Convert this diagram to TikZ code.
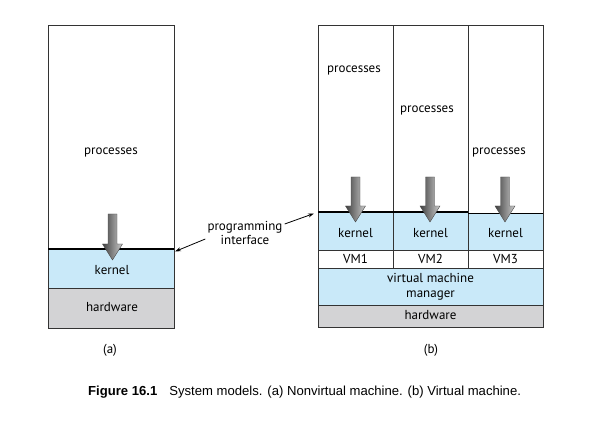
\documentclass[tikz,border=0pt]{standalone}
\usepackage{fontspec}
\setmainfont{PT Sans}
\newfontfamily\capfont{Liberation Sans}
\usetikzlibrary{arrows.meta}
\definecolor{kernelblue}{RGB}{201,233,249}
\definecolor{hwgray}{RGB}{211,211,213}
\tikzset{
  layer/.style={draw=black!80, line width=0.6pt},
  boundary/.style={line width=1.7pt},
  callarrow/.style={left color=black!75, right color=black!20, draw=black!70, line width=0.4pt},
  pointer/.style={-{Stealth[length=6pt,width=4pt]}, line width=0.8pt},
  lbl/.style={inner sep=1pt, font=\fontsize{13}{14.5}\selectfont},
}
% fat shaded arrow: x, top of shaft, tip
\newcommand{\callarrow}[3]{%
  \draw[callarrow] (#1-4.5,#2) -- (#1+4.5,#2) -- (#1+4.5,#3-16) -- (#1+10,#3-16)
    -- (#1,#3) -- (#1-10,#3-16) -- (#1-4.5,#3-16) -- cycle;}

\begin{document}
\begin{tikzpicture}[x=1pt,y=-1pt]
    \useasboundingbox (0,0) rectangle (589,446);
    % (a) nonvirtual machine
    \draw[layer] (48,25) rectangle (174,249);
    \draw[layer,fill=kernelblue] (48,249) rectangle (174,288);
    \draw[layer,fill=hwgray] (48,288) rectangle (174,328);
    \draw[boundary] (48,249) -- (174,249);
    \callarrow{112.5}{214}{260}
    \node[lbl] (procA) at (111,152) {processes};
    \node[lbl] (kernA) at (112,270) {kernel};
    \node[lbl] (hwA) at (112,307) {hardware};
    \node[lbl] (capA) at (110,350) {(a)};

    % (b) virtual machines
    \draw[layer] (318,25) rectangle (393,212);
    \draw[layer] (393,25) rectangle (468,212);
    \draw[layer] (468,25) rectangle (543,213);
    \draw[layer,fill=kernelblue] (318,212) rectangle (393,250);
    \draw[layer,fill=kernelblue] (393,212) rectangle (468,250);
    \draw[layer,fill=kernelblue] (468,213) rectangle (543,250);
    \draw[layer] (318,250) rectangle (393,268);
    \draw[layer] (393,250) rectangle (468,268);
    \draw[layer] (468,250) rectangle (543,268);
    \draw[layer,fill=kernelblue] (318,268) rectangle (543,305);
    \draw[layer,fill=hwgray] (318,305) rectangle (543,327);
    \draw[boundary] (318,212) -- (468,212);
    \draw[boundary] (468,213.5) -- (543,213.5);
    \callarrow{355.5}{177}{222}
    \callarrow{430}{177}{222}
    \callarrow{505}{177}{222}
    \node[lbl] (procB1) at (354,70) {processes};
    \node[lbl] (procB2) at (427,110) {processes};
    \node[lbl] (procB3) at (499,152) {processes};
    \node[lbl] (kernB1) at (355.5,233) {kernel};
    \node[lbl] (kernB2) at (430.5,233) {kernel};
    \node[lbl] (kernB3) at (505.5,233) {kernel};
    \node[lbl] (vm1) at (355.5,259) {VM1};
    \node[lbl] (vm2) at (430.5,259) {VM2};
    \node[lbl] (vm3) at (505.5,259) {VM3};
    \node[lbl, align=center] (vmm) at (430.5,287) {virtual machine\\manager};
    \node[lbl] (hwB) at (430.5,315.5) {hardware};
    \node[lbl] (capB) at (431,350) {(b)};

    % programming interface
    \node[lbl, align=center] (api) at (245,233) {programming\\interface};
    \coordinate (apiA) at (175,251.5);
    \coordinate (apiB) at (314,213.5);
    \draw[pointer] (api.west |- 0,239) ++(-1,0) -- (apiA);
    \draw[pointer] (api.east |- 0,224) ++(1,0) -- (apiB);

    % caption
    \node[anchor=west, inner sep=0pt, font=\capfont\fontsize{13.1}{15}\selectfont] (fig) at (88,392)
      {\textbf{Figure 16.1}\hspace{12pt}System models. (a) Nonvirtual machine. (b) Virtual machine.};
\end{tikzpicture}
\end{document}
